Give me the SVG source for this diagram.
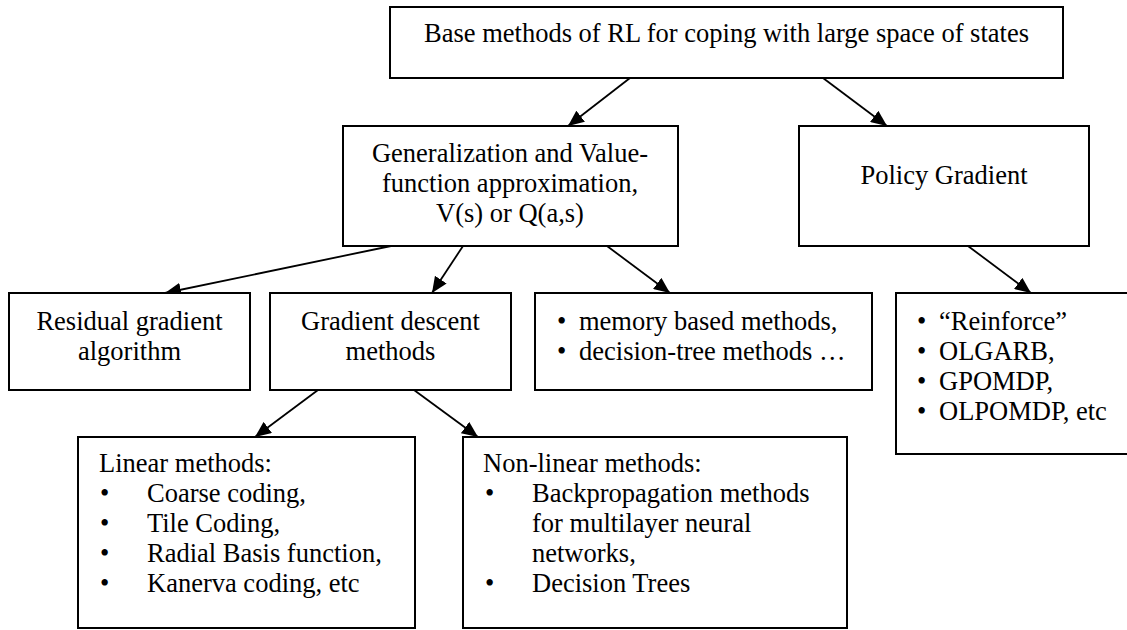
<svg xmlns="http://www.w3.org/2000/svg" width="1127" height="630" viewBox="0 0 1127 630" font-family="'Liberation Serif', 'Times New Roman', Tinos, serif" font-size="26.5">
<defs>
<style>
.box{fill:#fff;stroke:#000;stroke-width:2}
text{font-family:'Liberation Serif','Times New Roman',Tinos,serif;font-size:26.5px;fill:#000}
.c{text-anchor:middle}
.edge{stroke:#000;stroke-width:1.8;fill:none;marker-end:url(#ah)}
</style>
<marker id="ah" markerUnits="userSpaceOnUse" markerWidth="16" markerHeight="14" viewBox="0 0 16 14" refX="16" refY="7" orient="auto">
<path d="M0,0 L16,7 L0,14 Z" fill="#000"/>
</marker>
</defs>
<g id="connectors">
<line class="edge" x1="630" y1="78" x2="568" y2="126"/>
<line class="edge" x1="823" y1="78" x2="887" y2="126"/>
<line class="edge" x1="391" y1="246" x2="165" y2="293"/>
<line class="edge" x1="463" y1="246" x2="432" y2="293"/>
<line class="edge" x1="607" y1="246" x2="670" y2="293"/>
<line class="edge" x1="968" y1="246" x2="1031" y2="293"/>
<line class="edge" x1="318" y1="390" x2="255" y2="437"/>
<line class="edge" x1="414" y1="390" x2="478" y2="437"/>
</g>
<g id="top">
<rect class="box" x="390" y="7" width="673" height="71"/>
<text class="c" x="726.5" y="42">Base methods of RL for coping with large space of states</text>
</g>
<g id="gen">
<rect class="box" x="343" y="126" width="335" height="120"/>
<text class="c" x="510" y="162">Generalization and Value-</text>
<text class="c" x="510" y="192">function approximation,</text>
<text class="c" x="510" y="222">V(s) or Q(a,s)</text>
</g>
<g id="policy">
<rect class="box" x="799" y="126" width="290" height="120"/>
<text class="c" x="944" y="184">Policy Gradient</text>
</g>
<g id="residual">
<rect class="box" x="9" y="293" width="241" height="97"/>
<text class="c" x="129.5" y="330">Residual gradient</text>
<text class="c" x="129.5" y="360">algorithm</text>
</g>
<g id="gradient">
<rect class="box" x="270" y="293" width="241" height="97"/>
<text class="c" x="390.5" y="330">Gradient descent</text>
<text class="c" x="390.5" y="360">methods</text>
</g>
<g id="memory">
<rect class="box" x="535" y="293" width="337" height="97"/>
<text x="557" y="330">•</text><text x="579" y="330">memory based methods,</text>
<text x="557" y="360">•</text><text x="579" y="360">decision-tree methods …</text>
</g>
<g id="pglist">
<rect class="box" x="896" y="293" width="240" height="161"/>
<text x="917" y="330">•</text><text x="939" y="330">“Reinforce”</text>
<text x="917" y="360">•</text><text x="939" y="360">OLGARB,</text>
<text x="917" y="390">•</text><text x="939" y="390">GPOMDP,</text>
<text x="917" y="420">•</text><text x="939" y="420">OLPOMDP, etc</text>
</g>
<g id="linear">
<rect class="box" x="78" y="437" width="337" height="191"/>
<text x="99" y="472">Linear methods:</text>
<text x="100" y="502">•</text><text x="147" y="502">Coarse coding,</text>
<text x="100" y="532">•</text><text x="147" y="532">Tile Coding,</text>
<text x="100" y="562">•</text><text x="147" y="562">Radial Basis function,</text>
<text x="100" y="592">•</text><text x="147" y="592">Kanerva coding, etc</text>
</g>
<g id="nonlinear">
<rect class="box" x="463" y="437" width="384" height="191"/>
<text x="483" y="472">Non-linear methods:</text>
<text x="485" y="502">•</text><text x="532" y="502">Backpropagation methods</text>
<text x="532" y="532">for multilayer neural</text>
<text x="532" y="562">networks,</text>
<text x="485" y="592">•</text><text x="532" y="592">Decision Trees</text>
</g>
</svg>
